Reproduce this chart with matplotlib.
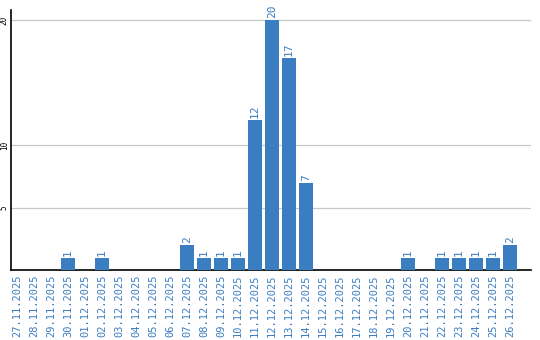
import matplotlib
matplotlib.use("Agg")
import matplotlib.pyplot as plt

# daily counts
dates = ["27.11.2025", "28.11.2025", "29.11.2025", "30.11.2025", "01.12.2025",
         "02.12.2025", "03.12.2025", "04.12.2025", "05.12.2025", "06.12.2025",
         "07.12.2025", "08.12.2025", "09.12.2025", "10.12.2025", "11.12.2025",
         "12.12.2025", "13.12.2025", "14.12.2025", "15.12.2025", "16.12.2025",
         "17.12.2025", "18.12.2025", "19.12.2025", "20.12.2025", "21.12.2025",
         "22.12.2025", "23.12.2025", "24.12.2025", "25.12.2025", "26.12.2025"]
counts = [0, 0, 0, 1, 0, 1, 0, 0, 0, 0,
          2, 1, 1, 1, 12, 20, 17, 7, 0, 0,
          0, 0, 0, 1, 0, 1, 1, 1, 1, 2]
yticks = [5, 10, 20]

blue = "#3a7dc1"
mono = "DejaVu Sans Mono"

fig = plt.figure(figsize=(5.4, 3.4), dpi=100)
ax = fig.add_axes([11 / 540, 70 / 340, 520 / 540, 260 / 340])

x = list(range(len(dates)))
ax.bar(x, counts, width=0.82, color=blue, zorder=3)

for i, v in enumerate(counts):
    if v > 0:
        ax.text(i, v + 0.15, str(v), rotation=90, ha="center", va="bottom",
                color=blue, fontsize=8, family=mono, zorder=4)

ax.set_xlim(-0.35, 30.24)
ax.set_ylim(0, 20.8)
ax.set_yticks(yticks)
ax.set_yticklabels([str(t) for t in yticks], rotation=90, va="center",
                   fontsize=5.5, family=mono)
ax.set_xticks(x)
ax.set_xticklabels(dates, rotation=90, fontsize=7.5, family=mono, color=blue)
ax.tick_params(axis="x", length=0, pad=3)
ax.tick_params(axis="y", length=0, pad=1.5)
ax.grid(axis="y", color="#c8c8c8", linewidth=0.9, zorder=0)

for s in ["top", "right"]:
    ax.spines[s].set_visible(False)
ax.spines["left"].set_linewidth(1.2)
ax.spines["bottom"].set_linewidth(1.2)

fig.savefig("out.png", dpi=100)
